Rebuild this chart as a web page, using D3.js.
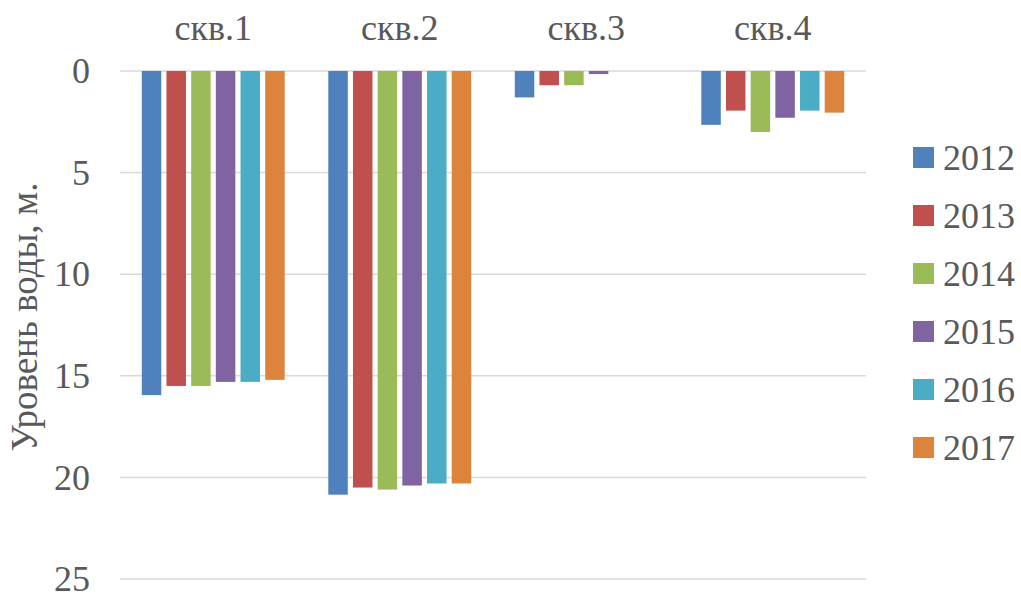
<!DOCTYPE html>
<html>
<head>
<meta charset="utf-8">
<script src="https://cdn.jsdelivr.net/npm/d3@7"></script>
<style>
  html, body { margin: 0; padding: 0; background: #fff; }
  svg { display: block; }
</style>
</head>
<body>
<svg id="chart" width="1021" height="597"></svg>
<script>
// Wells and observation years
const wells = ["скв.1", "скв.2", "скв.3", "скв.4"];
const years = ["2012", "2013", "2014", "2015", "2016", "2017"];
const colors = ["#4f81bd", "#c0504d", "#9bbb59", "#8064a2", "#4bacc6", "#dd843c"];

// Water level depth (m) per year, one value per well
const y2012 = [15.95, 20.85, 1.3, 2.65];
const y2013 = [15.5, 20.5, 0.7, 1.95];
const y2014 = [15.5, 20.6, 0.7, 3.0];
const y2015 = [15.3, 20.4, 0.15, 2.3];
const y2016 = [15.3, 20.3, 0, 1.95];
const y2017 = [15.2, 20.3, 0, 2.05];
const series = [y2012, y2013, y2014, y2015, y2016, y2017];

const yTicks = [0, 5, 10, 15, 20, 25];
const axisTitle = "Уровень воды, м.";

const FONT = "'Liberation Serif'";
const TEXT_COLOR = "#595959";

const svg = d3.select("#chart");
const plotLeft = 120, plotRight = 866, plotTop = 71, plotBottom = 579;

const x0 = d3.scaleBand().domain(wells).range([plotLeft, plotRight])
  .paddingInner(0.206).paddingOuter(0.103);
const x1 = d3.scaleBand().domain(years).range([0, x0.bandwidth()])
  .paddingInner(0.21).paddingOuter(0.105);
const y = d3.scaleLinear().domain([0, 25]).range([plotTop, plotBottom]);

// Gridlines
svg.append("g").selectAll("line").data(yTicks).join("line")
  .attr("x1", plotLeft).attr("x2", plotRight)
  .attr("y1", d => y(d)).attr("y2", d => y(d))
  .attr("stroke", "#d9d9d9").attr("stroke-width", 1.5);

// Tick labels
svg.append("g").selectAll("text").data(yTicks).join("text")
  .attr("x", 90).attr("y", d => y(d))
  .attr("dy", "0.34em")
  .attr("text-anchor", "end")
  .attr("font-family", FONT).attr("fill", TEXT_COLOR)
  .attr("font-size", 36)
  .text(d => d);

// Axis title
svg.append("text")
  .attr("transform", "translate(37, 317) rotate(-90)")
  .attr("text-anchor", "middle")
  .attr("font-family", FONT).attr("fill", TEXT_COLOR)
  .attr("font-size", 37)
  .text(axisTitle);

// Category labels above the plot
svg.append("g").selectAll("text").data(wells).join("text")
  .attr("x", d => x0(d) + x0.bandwidth() / 2)
  .attr("y", 40)
  .attr("text-anchor", "middle")
  .attr("font-family", FONT).attr("fill", TEXT_COLOR)
  .attr("font-size", 36)
  .text(d => d);

// Bars hang down from zero
const groups = svg.append("g").selectAll("g").data(wells).join("g")
  .attr("transform", d => `translate(${x0(d)},0)`);
groups.selectAll("rect")
  .data((w, i) => years.map((yr, j) => ({ yr, j, v: series[j][i] })).filter(d => d.v > 0))
  .join("rect")
  .attr("x", d => x1(d.yr))
  .attr("width", x1.bandwidth())
  .attr("y", y(0))
  .attr("height", d => y(d.v) - y(0))
  .attr("fill", d => colors[d.j]);

// Legend
const legend = svg.append("g").selectAll("g").data(years).join("g")
  .attr("transform", (d, i) => `translate(913, ${157 + i * 58})`);
legend.append("rect")
  .attr("x", 0).attr("y", -10).attr("width", 21).attr("height", 21)
  .attr("fill", (d, i) => colors[i]);
legend.append("text")
  .attr("x", 30).attr("y", 0).attr("dy", "0.35em")
  .attr("font-family", FONT).attr("fill", TEXT_COLOR)
  .attr("font-size", 36)
  .text(d => d);
</script>
</body>
</html>
